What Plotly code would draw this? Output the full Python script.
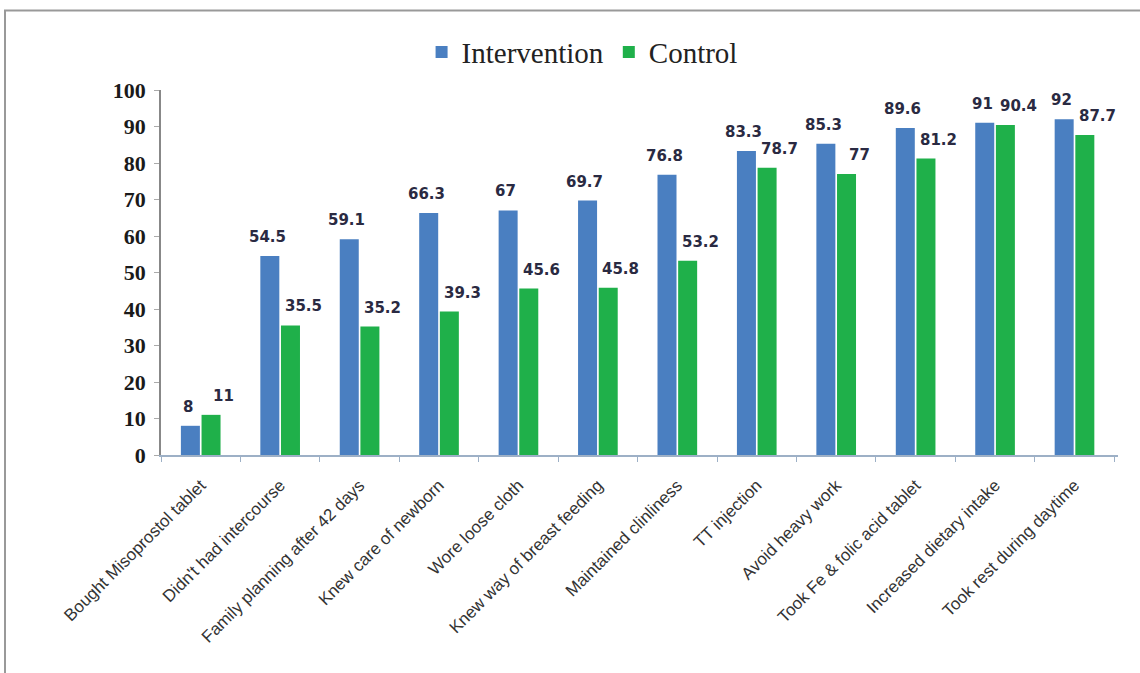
import plotly.graph_objects as go

categories = [
    "Bought Misoprostol tablet",
    "Didn't had intercourse",
    "Family planning after 42 days",
    "Knew care of newborn",
    "Wore loose cloth",
    "Knew way of breast feeding",
    "Maintained clinliness",
    "TT injection",
    "Avoid heavy work",
    "Took Fe & folic acid tablet",
    "Increased dietary intake",
    "Took rest during daytime",
]
intervention = [8, 54.5, 59.1, 66.3, 67, 69.7, 76.8, 83.3, 85.3, 89.6, 91, 92]
control = [11, 35.5, 35.2, 39.3, 45.6, 45.8, 53.2, 78.7, 77, 81.2, 90.4, 87.7]
y_ticks = [0, 10, 20, 30, 40, 50, 60, 70, 80, 90, 100]

label_font = dict(family="DejaVu Sans", size=15, color="#2a2a42", weight="bold")

fig = go.Figure()
fig.add_trace(go.Bar(
    name="Intervention", x=categories, y=intervention,
    marker=dict(color="#4a7fc1", line=dict(width=0)),
))
fig.add_trace(go.Bar(
    name="Control", x=categories, y=control,
    marker=dict(color="#1fb04a", line=dict(width=0)),
))

annotations = []
for series, shift in ((intervention, -13), (control, 23)):
    for cat, val in zip(categories, series):
        annotations.append(dict(
            x=cat, y=val, xref="x", yref="y", text=f"{val:g}",
            showarrow=False, yanchor="bottom", xanchor="center",
            xshift=shift, yshift=8, font=label_font,
        ))

fig.update_layout(
    width=1140, height=673,
    margin=dict(l=161, r=22, t=90, b=218),
    paper_bgcolor="white", plot_bgcolor="white",
    barmode="group", bargap=0.48, bargroupgap=0.08,
    annotations=annotations,
    legend=dict(
        orientation="h", x=0.44, xanchor="center", y=1.104, yanchor="middle",
        font=dict(family="Liberation Serif", size=29, color="#222222"),
        itemwidth=30, traceorder="normal",
    ),
    xaxis=dict(
        tickangle=-45, tickfont=dict(family="Liberation Sans", size=17, color="#333333"),
        ticklabelstandoff=12,
        showline=True, linecolor="#9db0c6", linewidth=1.5,
        ticks="outside", tickson="boundaries", ticklen=5, tickcolor="#9db0c6",
        showgrid=False,
    ),
    yaxis=dict(
        range=[0, 100], tickvals=y_ticks,
        tickfont=dict(family="Liberation Serif", size=22, color="#1a1a1a", weight="bold"),
        ticklabelstandoff=4,
        showline=True, linecolor="#888888", linewidth=1.5,
        ticks="outside", ticklen=5, tickcolor="#aaaaaa",
        showgrid=False, zeroline=False,
    ),
    shapes=[dict(
        type="rect", xref="paper", yref="paper",
        x0=(5 - 161) / 957, x1=(1160 - 161) / 957,
        y0=(455 - 700) / 365, y1=(455 - 10.5) / 365,
        line=dict(color="#999999", width=2), fillcolor="rgba(0,0,0,0)",
    )],
)

fig.write_html("out.html")
